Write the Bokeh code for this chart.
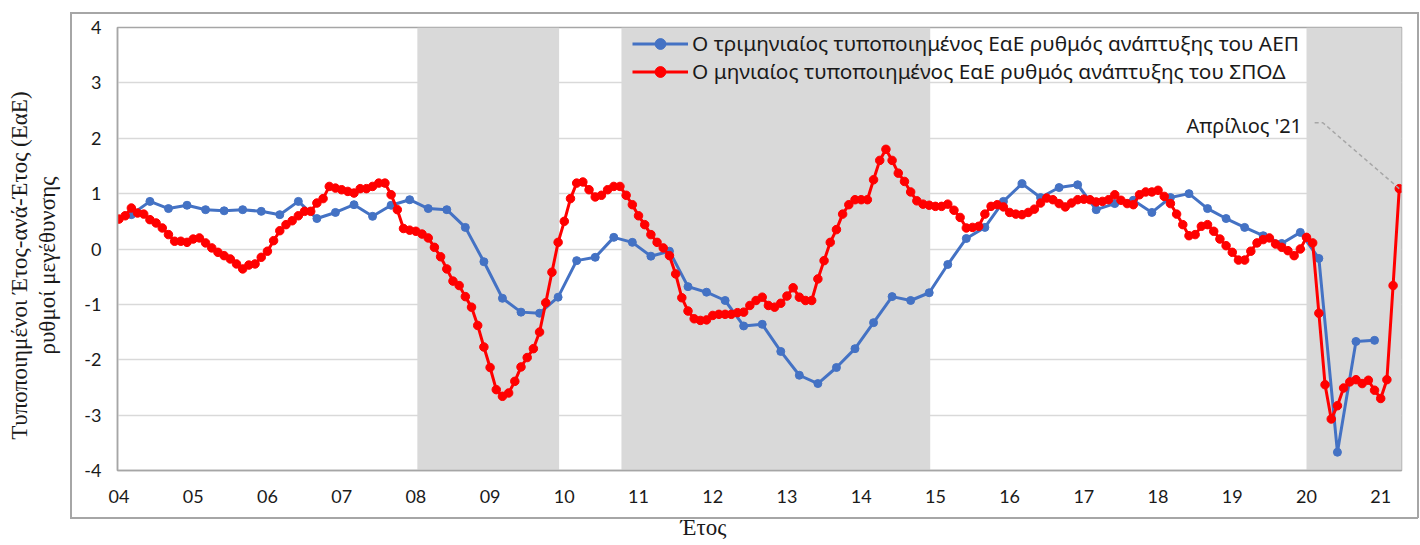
from bokeh.plotting import figure
from bokeh.models import Range1d, FixedTicker, Label, LinearAxis
from bokeh.embed import file_html
from bokeh.resources import INLINE

# ---------------- data ----------------
start_year = 2004
# quarterly standardised YoY GDP growth (Q1 2004 .. Q4 2020)
gdp_q = [0.62, 0.86, 0.73, 0.79,
         0.71, 0.69, 0.71, 0.68,
         0.62, 0.86, 0.55, 0.66,
         0.80, 0.59, 0.79, 0.89,
         0.73, 0.71, 0.39, -0.23,
         -0.89, -1.14, -1.16, -0.87,
         -0.21, -0.15, 0.21, 0.12,
         -0.13, -0.04, -0.68, -0.78,
         -0.93, -1.39, -1.36, -1.85,
         -2.28, -2.43, -2.14, -1.80,
         -1.33, -0.86, -0.93, -0.79,
         -0.28, 0.19, 0.39, 0.86,
         1.18, 0.93, 1.11, 1.16,
         0.71, 0.82, 0.88, 0.66,
         0.93, 1.00, 0.73, 0.55,
         0.39, 0.24, 0.10, 0.30,
         -0.17, -3.67, -1.67, -1.65]
# monthly standardised YoY composite indicator (Jan 2004 .. Apr 2021)
spod_m = [0.54, 0.60, 0.74, 0.65, 0.63, 0.53, 0.47, 0.38, 0.26, 0.14, 0.14, 0.12,
          0.18, 0.20, 0.11, 0.02, -0.06, -0.12, -0.18, -0.27, -0.36, -0.29, -0.27, -0.15,
          -0.04, 0.15, 0.33, 0.44, 0.51, 0.60, 0.68, 0.68, 0.83, 0.91, 1.13, 1.10,
          1.07, 1.04, 1.01, 1.09, 1.09, 1.13, 1.19, 1.19, 0.98, 0.71, 0.37, 0.34,
          0.32, 0.27, 0.20, 0.03, -0.14, -0.36, -0.58, -0.66, -0.86, -1.05, -1.38, -1.77,
          -2.14, -2.54, -2.66, -2.60, -2.39, -2.13, -1.96, -1.80, -1.50, -0.97, -0.42, 0.12,
          0.50, 0.91, 1.19, 1.21, 1.07, 0.94, 0.97, 1.07, 1.13, 1.13, 0.97, 0.80,
          0.60, 0.44, 0.26, 0.12, 0.02, -0.12, -0.45, -0.88, -1.12, -1.26, -1.29, -1.28,
          -1.20, -1.18, -1.18, -1.18, -1.15, -1.14, -1.02, -0.93, -0.87, -1.02, -1.05, -0.98,
          -0.85, -0.70, -0.87, -0.93, -0.93, -0.54, -0.21, 0.12, 0.35, 0.63, 0.80, 0.89,
          0.89, 0.89, 1.25, 1.60, 1.80, 1.60, 1.37, 1.22, 1.03, 0.87, 0.81, 0.79,
          0.77, 0.77, 0.81, 0.70, 0.57, 0.38, 0.39, 0.41, 0.63, 0.77, 0.80, 0.76,
          0.66, 0.63, 0.62, 0.66, 0.72, 0.83, 0.92, 0.89, 0.82, 0.76, 0.83, 0.89,
          0.90, 0.89, 0.85, 0.86, 0.89, 0.98, 0.88, 0.82, 0.80, 0.98, 1.03, 1.03,
          1.06, 0.95, 0.82, 0.63, 0.44, 0.24, 0.26, 0.41, 0.44, 0.32, 0.18, 0.06,
          -0.06, -0.20, -0.20, -0.04, 0.11, 0.17, 0.20, 0.09, 0.03, -0.03, -0.12, 0.00,
          0.21, 0.11, -1.16, -2.45, -3.07, -2.83, -2.51, -2.40, -2.36, -2.43, -2.37, -2.55,
          -2.70, -2.36, -0.66, 1.09]
year_ticks = list(range(2004, 2022))
year_labels = ["04", "05", "06", "07", "08", "09", "10", "11", "12",
               "13", "14", "15", "16", "17", "18", "19", "20", "21"]
y_ticks = [-4, -3, -2, -1, 0, 1, 2, 3, 4]
shade_start = [2008.02, 2010.77, 2020.0]
shade_end = [2009.93, 2014.93, 2021.5]

gdp_label = "Ο τριμηνιαίος τυποποιημένος ΕαΕ ρυθμός ανάπτυξης του ΑΕΠ"
spod_label = "Ο μηνιαίος τυποποιημένος ΕαΕ ρυθμός ανάπτυξης του ΣΠΟΔ"
note_text = "Απρίλιος '21"
x_title = "Έτος"
y_title_1 = "Τυποποιημένοι Έτος-ανά-Έτος (ΕαΕ)"
y_title_2 = "ρυθμοί μεγέθυνσης"

gdp_x = [start_year + (3 * k + 2) / 12 for k in range(len(gdp_q))]
spod_x = [start_year + k / 12 for k in range(len(spod_m))]

BLUE = "#4472C4"
RED = "#FF0000"
SANS = "Lato"
GREEK_SANS = "Noto Sans"
SERIF = "Liberation Serif"
TXT = "#1a1a1a"
BORDER = "#a6a6a6"

p = figure(width=1420, height=545,
           x_range=Range1d(2003.98, 2021.28), y_range=Range1d(-4, 4),
           output_backend="svg", toolbar_location=None,
           min_border_left=117, min_border_right=19,
           min_border_top=27, min_border_bottom=75)
p.background_fill_color = "white"
p.border_fill_color = None
p.outline_line_color = BORDER
p.outline_line_width = 1.5
# outer chart-area border (as in the original Excel chart), drawn behind the canvas
p.styles = {
    "background-color": "white",
    "background-image": ", ".join([f"linear-gradient({BORDER}, {BORDER})"] * 4),
    "background-size": "2px 506px, 1348px 2px, 1348px 2px, 2px 506px",
    "background-position": "70px 12px, 70px 12px, 70px 517px, 1417px 12px",
    "background-repeat": "no-repeat",
}

# shaded periods
p.quad(left=shade_start, right=shade_end, bottom=-4, top=4,
       fill_color="#d9d9d9", line_color=None)

# series
p.line(gdp_x, gdp_q, line_color=BLUE, line_width=3, legend_label=gdp_label)
p.scatter(gdp_x, gdp_q, size=8, fill_color=BLUE, line_color=BLUE, legend_label=gdp_label)
p.line(spod_x, spod_m, line_color=RED, line_width=3, legend_label=spod_label)
p.scatter(spod_x, spod_m, size=8.5, fill_color=RED, line_color=RED, legend_label=spod_label)

# annotation
p.line([2020.11, 2020.22, spod_x[-1]], [2.28, 2.28, spod_m[-1]],
       line_color=BORDER, line_width=1.5, line_dash="4 3")
p.add_layout(Label(x=2019.94, y=2.23, text=note_text, text_align="right",
                   text_baseline="middle", text_font=GREEK_SANS,
                   text_font_size="20px", text_color=TXT))

# axes
xa = p.xaxis[0]
xa.ticker = FixedTicker(ticks=year_ticks)
xa.major_label_overrides = {t: l for t, l in zip(year_ticks, year_labels)}
xa.major_tick_line_color = None
xa.major_tick_out = 0
xa.major_tick_in = 0
xa.minor_tick_line_color = None
xa.axis_line_color = BORDER
xa.axis_line_width = 1.5
xa.major_label_text_font = SANS
xa.major_label_text_font_size = "18px"
xa.major_label_text_color = TXT
xa.major_label_standoff = 19

ya = p.yaxis[0]
ya.ticker = FixedTicker(ticks=y_ticks)
ya.major_label_overrides = {t: str(t) for t in y_ticks}
ya.major_tick_line_color = None
ya.major_tick_out = 0
ya.major_tick_in = 0
ya.minor_tick_line_color = None
ya.axis_line_color = BORDER
ya.axis_line_width = 1.5
ya.major_label_text_font = SANS
ya.major_label_text_font_size = "18px"
ya.major_label_text_color = TXT
ya.major_label_standoff = 16


def title_axis(tick, text, standoff, vertical, size):
    ax = LinearAxis(ticker=FixedTicker(ticks=[tick]),
                    major_label_overrides={tick: text})
    ax.axis_line_color = None
    ax.major_tick_line_color = None
    ax.minor_tick_line_color = None
    ax.major_tick_out = 0
    ax.major_tick_in = 0
    ax.major_label_standoff = standoff
    ax.major_label_text_font = SERIF
    ax.major_label_text_font_size = size
    ax.major_label_text_color = TXT
    if vertical:
        ax.major_label_orientation = "vertical"
    return ax


# axis titles, positioned as in the original
p.add_layout(title_axis(2011.875, x_title, 9, False, "23px"), "below")
p.add_layout(title_axis(-0.3, y_title_2, 21, True, "23px"), "left")
p.add_layout(title_axis(-0.3, y_title_1, 0, True, "23px"), "left")

p.xgrid.visible = False
p.ygrid.ticker = FixedTicker(ticks=y_ticks)
p.ygrid.grid_line_color = "#d9d9d9"
p.ygrid.grid_line_width = 1.5

# legend
lg = p.legend[0]
lg.location = (515, 385)
lg.background_fill_alpha = 0
lg.border_line_alpha = 0
lg.padding = 0
lg.margin = 0
lg.spacing = 0
lg.glyph_width = 56
lg.glyph_height = 27
lg.label_height = 27
lg.label_standoff = 4
lg.label_text_font = GREEK_SANS
lg.label_text_font_size = "20.8px"
lg.label_text_color = TXT

open("out.html", "w").write(file_html(p, INLINE))
